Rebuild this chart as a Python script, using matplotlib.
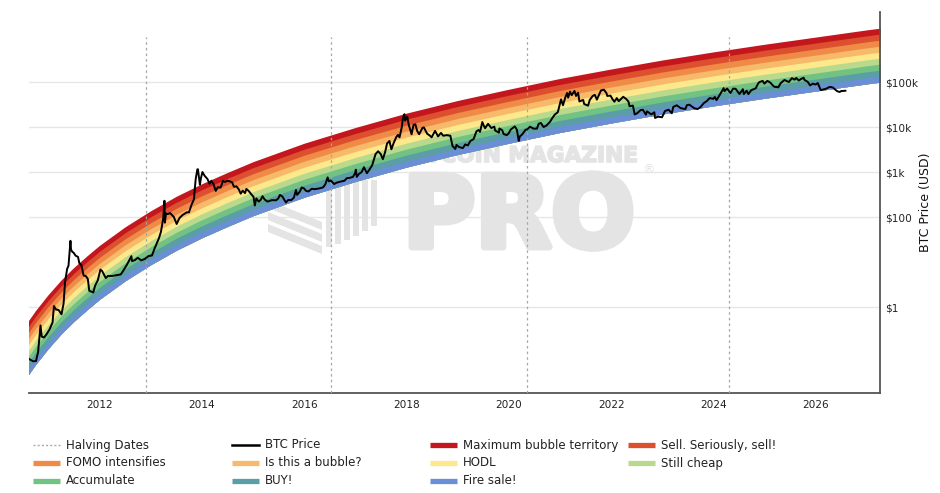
import matplotlib
matplotlib.use("Agg")
import matplotlib.pyplot as plt
import matplotlib.patheffects as pe
from matplotlib.lines import Line2D
from matplotlib.patches import Polygon
import numpy as np
import pandas as pd

# ---- data ----
price_dates = [
    "2010-08-16", "2010-09-15", "2010-10-05", "2010-10-20", "2010-11-06", "2010-11-15", "2010-12-01", "2010-12-20",
    "2011-01-10", "2011-01-31", "2011-02-10", "2011-02-25", "2011-03-15", "2011-04-05", "2011-04-20", "2011-04-30",
    "2011-05-15", "2011-05-25", "2011-06-08", "2011-06-12", "2011-06-20", "2011-07-01", "2011-07-15", "2011-08-01",
    "2011-08-10", "2011-08-25", "2011-09-10", "2011-09-25", "2011-10-10", "2011-10-20", "2011-11-18", "2011-12-01",
    "2011-12-20", "2012-01-08", "2012-01-20", "2012-02-15", "2012-03-01", "2012-04-01", "2012-05-01", "2012-06-01",
    "2012-06-20", "2012-07-15", "2012-08-16", "2012-08-20", "2012-09-10", "2012-09-30", "2012-10-25", "2012-11-20",
    "2012-12-15", "2013-01-10", "2013-01-30", "2013-02-15", "2013-03-01", "2013-03-15", "2013-03-31", "2013-04-09",
    "2013-04-12", "2013-04-20", "2013-05-01", "2013-05-20", "2013-06-15", "2013-07-05", "2013-07-25", "2013-08-15",
    "2013-09-15", "2013-10-01", "2013-10-20", "2013-11-05", "2013-11-18", "2013-11-30", "2013-12-04", "2013-12-18",
    "2013-12-25", "2014-01-05", "2014-01-20", "2014-02-10", "2014-02-25", "2014-03-10", "2014-03-25", "2014-04-10",
    "2014-04-25", "2014-05-15", "2014-06-01", "2014-06-15", "2014-07-01", "2014-07-20", "2014-08-05", "2014-08-18",
    "2014-09-05", "2014-09-22", "2014-10-05", "2014-10-20", "2014-11-05", "2014-11-15", "2014-12-01", "2014-12-20",
    "2015-01-05", "2015-01-14", "2015-01-25", "2015-02-10", "2015-02-25", "2015-03-10", "2015-03-25", "2015-04-15",
    "2015-05-15", "2015-06-15", "2015-07-01", "2015-07-12", "2015-07-30", "2015-08-24", "2015-09-10", "2015-10-01",
    "2015-10-20", "2015-11-04", "2015-11-12", "2015-12-01", "2015-12-15", "2016-01-01", "2016-01-15", "2016-02-01",
    "2016-02-25", "2016-03-15", "2016-04-15", "2016-05-15", "2016-05-31", "2016-06-17", "2016-06-25", "2016-07-10",
    "2016-08-02", "2016-08-20", "2016-09-15", "2016-10-15", "2016-11-01", "2016-11-20", "2016-12-15", "2016-12-31",
    "2017-01-04", "2017-01-11", "2017-01-25", "2017-02-15", "2017-03-03", "2017-03-24", "2017-04-15", "2017-05-01",
    "2017-05-25", "2017-06-12", "2017-07-01", "2017-07-16", "2017-08-01", "2017-08-15", "2017-09-01", "2017-09-15",
    "2017-10-01", "2017-10-20", "2017-11-01", "2017-11-12", "2017-11-28", "2017-12-07", "2017-12-17", "2017-12-22",
    "2018-01-06", "2018-01-17", "2018-02-06", "2018-02-20", "2018-03-05", "2018-03-18", "2018-04-01", "2018-04-25",
    "2018-05-05", "2018-05-28", "2018-06-15", "2018-06-29", "2018-07-24", "2018-08-14", "2018-09-04", "2018-09-20",
    "2018-10-15", "2018-11-10", "2018-11-25", "2018-12-15", "2018-12-24", "2019-01-10", "2019-02-07", "2019-02-24",
    "2019-03-15", "2019-04-02", "2019-04-25", "2019-05-15", "2019-05-30", "2019-06-10", "2019-06-26", "2019-07-05",
    "2019-07-16", "2019-08-06", "2019-08-29", "2019-09-20", "2019-09-25", "2019-10-23", "2019-10-26", "2019-11-15",
    "2019-11-25", "2019-12-17", "2019-12-31", "2020-01-15", "2020-02-13", "2020-02-28", "2020-03-12", "2020-03-20",
    "2020-04-05", "2020-04-30", "2020-05-10", "2020-06-01", "2020-06-25", "2020-07-20", "2020-08-01", "2020-08-17",
    "2020-09-05", "2020-09-25", "2020-10-21", "2020-11-05", "2020-11-25", "2020-12-16", "2021-01-08", "2021-01-22",
    "2021-02-08", "2021-02-21", "2021-02-28", "2021-03-13", "2021-03-25", "2021-04-14", "2021-04-25", "2021-05-10",
    "2021-05-19", "2021-06-15", "2021-06-22", "2021-07-20", "2021-08-01", "2021-08-22", "2021-09-06", "2021-09-21",
    "2021-10-20", "2021-11-10", "2021-11-28", "2021-12-04", "2021-12-27", "2022-01-10", "2022-01-24", "2022-02-10",
    "2022-02-24", "2022-03-28", "2022-04-20", "2022-05-05", "2022-05-12", "2022-06-05", "2022-06-18", "2022-07-05",
    "2022-07-30", "2022-08-15", "2022-09-06", "2022-09-13", "2022-10-15", "2022-11-05", "2022-11-10", "2022-12-01",
    "2022-12-30", "2023-01-20", "2023-02-15", "2023-03-10", "2023-03-20", "2023-04-14", "2023-05-12", "2023-06-15",
    "2023-06-25", "2023-07-13", "2023-08-18", "2023-09-11", "2023-10-01", "2023-10-24", "2023-11-15", "2023-12-05",
    "2023-12-31", "2024-01-11", "2024-01-23", "2024-02-15", "2024-03-14", "2024-03-20", "2024-04-08", "2024-05-01",
    "2024-05-21", "2024-06-07", "2024-07-05", "2024-07-29", "2024-08-05", "2024-08-25", "2024-09-06", "2024-09-27",
    "2024-10-29", "2024-11-13", "2024-11-22", "2024-12-17", "2024-12-30", "2025-01-20", "2025-02-10", "2025-02-28",
    "2025-03-10", "2025-04-08", "2025-04-25", "2025-05-22", "2025-06-22", "2025-07-14", "2025-08-02", "2025-08-14",
    "2025-09-01", "2025-09-18", "2025-10-06", "2025-10-11", "2025-11-04", "2025-11-21", "2025-12-10", "2025-12-30",
    "2026-01-15", "2026-02-05", "2026-02-20", "2026-03-15", "2026-04-10", "2026-05-01", "2026-06-01", "2026-06-20",
    "2026-07-01", "2026-07-31",
]
price_usd = [
    0.07, 0.062, 0.063, 0.10, 0.39, 0.22, 0.21, 0.25,
    0.32, 0.45, 1.05, 0.88, 0.86, 0.69, 1.2, 3.5,
    7.0, 8.3, 29.6, 19, 17, 16, 13.8, 13,
    9.5, 8.5, 5.0, 4.9, 4.2, 2.3, 2.1, 3.0,
    3.9, 6.8, 6.3, 4.4, 4.9, 4.9, 5.1, 5.3,
    6.5, 8.7, 13.5, 10.5, 11, 12.4, 10.9, 11.7,
    13.5, 14, 20.5, 27, 34, 47, 93, 230,
    75, 120, 116, 122, 100, 70, 95, 110,
    127, 127, 190, 245, 700, 1150, 1150, 520,
    720, 1000, 830, 700, 550, 640, 540, 380,
    460, 450, 640, 600, 640, 620, 590, 470,
    480, 410, 330, 385, 340, 420, 380, 320,
    280, 180, 260, 220, 240, 290, 245, 220,
    237, 235, 260, 310, 285, 210, 240, 237,
    270, 400, 310, 365, 455, 430, 380, 370,
    425, 415, 430, 455, 530, 760, 620, 650,
    540, 580, 610, 640, 730, 740, 780, 960,
    1130, 780, 900, 1000, 1280, 940, 1180, 1420,
    2500, 2900, 2500, 1930, 2750, 4300, 4900, 3200,
    4400, 6000, 6700, 5900, 9900, 16000, 19300, 13800,
    17100, 11200, 6900, 11200, 11500, 8200, 6900, 9600,
    9800, 7100, 6500, 5900, 8200, 6200, 7400, 6400,
    6600, 6400, 3800, 3250, 4000, 3600, 3400, 4100,
    3900, 4900, 5400, 8000, 8600, 7800, 12900, 11000,
    9400, 11800, 9500, 10200, 8400, 7500, 9300, 8500,
    7000, 6600, 7200, 8800, 10300, 8700, 4900, 6200,
    6800, 8700, 8800, 10200, 9200, 9200, 11800, 12300,
    10000, 10700, 13000, 15500, 19000, 21300, 41000, 30500,
    46000, 57000, 45000, 61000, 51000, 63500, 49000, 58000,
    37000, 40000, 32500, 29800, 40000, 49000, 52000, 40700,
    65000, 67500, 57000, 49000, 50000, 41800, 36500, 44000,
    37500, 47000, 41500, 36500, 28900, 29900, 19000, 20200,
    23800, 24200, 18800, 22300, 19100, 21300, 15900, 17000,
    16500, 22700, 24300, 20200, 28000, 30400, 26300, 25100,
    30500, 31400, 26100, 25100, 27900, 34000, 37800, 44000,
    42300, 46600, 39500, 51800, 73100, 62500, 71600, 57000,
    71400, 70800, 54000, 69300, 54000, 64000, 53900, 65800,
    72600, 90000, 98900, 106000, 92300, 106000, 97000, 84000,
    78500, 76300, 94500, 111000, 100000, 122000, 113000, 123000,
    108000, 117000, 124500, 112000, 101000, 84000, 92000, 88000,
    95000, 66000, 68000, 71000, 78000, 76000, 63000, 60000,
    63000, 64000,
]

# lower edge of the rainbow (log10 USD) and band edges above it (decades)
band_dates = [
    "2010-07-19", "2010-10-01", "2011-01-01", "2011-04-02", "2011-07-02", "2011-10-01",
    "2012-01-01", "2012-07-01", "2013-01-01", "2013-07-02", "2014-01-01", "2014-07-02",
    "2015-01-01", "2016-01-01", "2017-01-01", "2018-01-01", "2019-01-01", "2020-01-01",
    "2021-01-01", "2022-01-01", "2023-01-01", "2024-01-01", "2025-01-01", "2026-01-01",
    "2027-01-01", "2027-05-08",
]
band_floor_log = [
    -1.61, -1.28, -0.92, -0.60, -0.32, -0.07,
    0.17, 0.58, 0.94, 1.26, 1.54, 1.79,
    2.03, 2.44, 2.79, 3.11, 3.39, 3.64,
    3.88, 4.09, 4.29, 4.47, 4.64, 4.80,
    4.96, 5.01,
]
band_edges = [0.0, 0.133, 0.267, 0.4, 0.533, 0.667, 0.8, 0.933, 1.067, 1.2]
band_names = ["Fire sale!", "BUY!", "Accumulate", "Still cheap", "HODL",
              "Is this a bubble?", "FOMO intensifies", "Sell. Seriously, sell!",
              "Maximum bubble territory"]
band_colors = ["#6a8fd6", "#5b9ea6", "#71c283", "#b9da8c", "#fde98c",
               "#f7b96a", "#f08b47", "#dc5030", "#c4171d"]

halving_dates = ["2012-11-28", "2016-07-09", "2020-05-11", "2024-04-20"]

ytick_vals = [1, 100, 1000, 10000, 100000]
ytick_labels = ["$1", "$100", "$1k", "$10k", "$100k"]
xtick_years = list(range(2012, 2027, 2))

W, H = 940, 493


def px(x, y):
    return x / W, 1 - y / H


fig = plt.figure(figsize=(9.4, 4.93), dpi=100)
ax = fig.add_axes([29 / W, 1 - 393 / H, (880 - 29) / W, (393 - 12) / H])

pdates = pd.to_datetime(price_dates)
bdates = pd.to_datetime(band_dates)
floor = np.array(band_floor_log)

# rainbow: draw from the top band down so neighbours overlap without seams
for k in range(len(band_names) - 1, -1, -1):
    ax.fill_between(bdates, 10 ** (floor + band_edges[0]), 10 ** (floor + band_edges[k + 1]),
                    color=band_colors[k], lw=0, zorder=2)

ax.set_yscale("log")
ax.set_ylim(0.01227, 3.6e6)
ax.set_xlim(pd.Timestamp("2010-08-16"), pd.Timestamp("2027-04-04"))

ax.vlines(pd.to_datetime(halving_dates), 0.01227, 1e6, colors="#a5a5a5",
          linestyles=(0, (2, 2.5)), lw=0.9, zorder=3)

ax.plot(pdates, price_usd, color="black", lw=1.4, zorder=4)

# grid / axes styling
ax.set_yticks(ytick_vals)
ax.set_yticklabels(ytick_labels)
ax.yaxis.set_minor_locator(matplotlib.ticker.NullLocator())
ax.yaxis.tick_right()
ax.grid(True, axis="y", color="#e6e6e6", lw=1, zorder=0)
ax.set_axisbelow(True)
ax.set_xticks(pd.to_datetime([f"{y}-01-01" for y in xtick_years]))
ax.set_xticklabels([str(y) for y in xtick_years])
ax.tick_params(axis="both", length=0, labelsize=7.6, colors="#222222")
ax.tick_params(axis="y", pad=4)
ax.tick_params(axis="x", pad=5)
for s in ["left", "top"]:
    ax.spines[s].set_visible(False)
for s in ["right", "bottom"]:
    ax.spines[s].set_color("#555555")
    ax.spines[s].set_linewidth(1.3)

fig.text(*px(925, 202), "BTC Price (USD)", rotation=90, ha="center", va="center",
         fontsize=9, color="#111111")

# watermark
wm = "#e4e4e4"
heavy = [pe.withStroke(linewidth=1.2, foreground=wm)]
ax.text(*px(401, 162), "BITCOIN MAGAZINE", transform=fig.transFigure, fontsize=15.6,
        fontweight="bold", color=wm, ha="left", va="baseline", zorder=1, path_effects=heavy)
ax.text(*px(403, 247), "PRO", transform=fig.transFigure, fontsize=71,
        fontweight="bold", color=wm, ha="left", va="baseline", zorder=1,
        path_effects=[pe.withStroke(linewidth=5, foreground=wm)])
ax.text(*px(648, 170), "\u00ae", transform=fig.transFigure, fontsize=9,
        color=wm, ha="center", va="center", zorder=1)
for i in range(3):
    y0 = 200 + i * 12
    pts = [px(268, y0), px(322, y0 + 22), px(322, y0 + 30), px(268, y0 + 8)]
    ax.add_patch(Polygon(pts, closed=True, transform=fig.transFigure, color=wm, lw=0, zorder=1))
bar_bottoms = [247, 244, 240, 236, 231, 226]
for i, bb in enumerate(bar_bottoms):
    x0 = 326 + i * 9
    pts = [px(x0, 180), px(x0 + 6, 180), px(x0 + 6, bb), px(x0, bb)]
    ax.add_patch(Polygon(pts, closed=True, transform=fig.transFigure, color=wm, lw=0, zorder=1))

# legend, laid out in a 4-column grid
legend_entries = [("Halving Dates", "halving"), ("BTC Price", "price")]
legend_entries += [(n, c) for n, c in zip(band_names[::-1], band_colors[::-1])]
col_x = [33, 232, 430, 628]
row_y = [445, 463, 481]
for i, (name, kind) in enumerate(legend_entries):
    x0, y0 = col_x[i % 4], row_y[i // 4]
    xa, ya = px(x0, y0)
    xb, _ = px(x0 + 27, y0)
    if kind == "halving":
        ln = Line2D([xa, xb], [ya, ya], color="#aaaaaa", lw=1, ls=(0, (1.5, 1.5)))
    elif kind == "price":
        ln = Line2D([xa, xb], [ya, ya], color="black", lw=1.8)
    else:
        ln = Line2D([xa, xb], [ya, ya], color=kind, lw=3.8, solid_capstyle="butt")
    fig.add_artist(ln)
    fig.text(*px(x0 + 33, y0), name, fontsize=8.5, color="#222222", ha="left", va="center")

plt.savefig("out.png", dpi=100)
plt.close()
